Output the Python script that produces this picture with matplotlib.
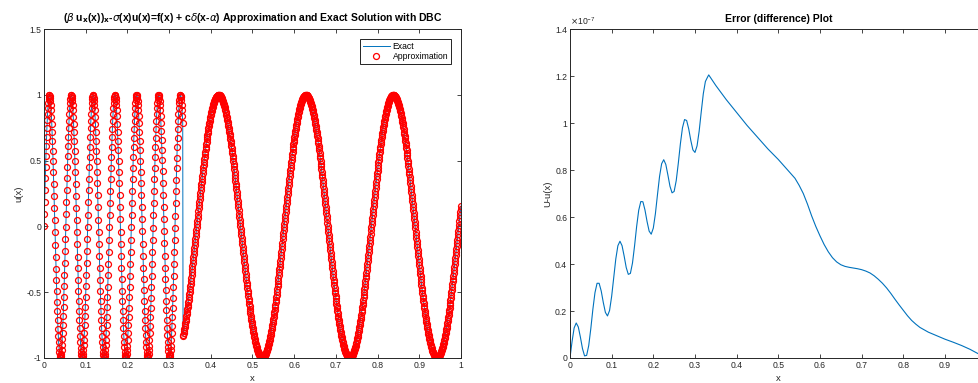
import numpy as np
import matplotlib
matplotlib.use('Agg')
import matplotlib.pyplot as plt

plt.rcParams['font.family'] = ['Liberation Sans', 'DejaVu Sans']
plt.rcParams['mathtext.fontset'] = 'dejavusans'

# exact solution: sin(k1 x) left of alpha, cos(k2 x) right of it
alpha = 1 / 3
k1 = 120
k2 = 30
n_intervals = 1280

# error curve U - u(x), values in units of 1e-7
err_x = [0, 0.005, 0.01, 0.015, 0.02, 0.025, 0.03, 0.035, 0.04, 0.045,
         0.05, 0.055, 0.06, 0.065, 0.07, 0.075, 0.08, 0.085, 0.09, 0.095,
         0.1, 0.105, 0.11, 0.115, 0.12, 0.125, 0.13, 0.135, 0.14, 0.145,
         0.15, 0.155, 0.16, 0.165, 0.17, 0.175, 0.18, 0.185, 0.19, 0.195,
         0.2, 0.205, 0.21, 0.215, 0.22, 0.225, 0.23, 0.235, 0.24, 0.245,
         0.25, 0.255, 0.26, 0.265, 0.27, 0.275, 0.28, 0.285, 0.29, 0.295,
         0.3, 0.305, 0.31, 0.315, 0.32, 0.325, 0.33, 0.333,
         0.35, 0.375, 0.4, 0.425, 0.45, 0.475, 0.5, 0.52, 0.54, 0.55,
         0.56, 0.57, 0.58, 0.59, 0.6, 0.61, 0.62, 0.63, 0.64, 0.65,
         0.66, 0.67, 0.68, 0.69, 0.7, 0.71, 0.72, 0.73, 0.74, 0.75,
         0.76, 0.77, 0.78, 0.79, 0.8, 0.81, 0.82, 0.83, 0.84, 0.86,
         0.88, 0.9, 0.92, 0.94, 0.96, 0.98, 1.0]
err_v = [0, 0.070, 0.128, 0.149, 0.132, 0.089, 0.040, 0.009, 0.011, 0.053,
         0.125, 0.208, 0.278, 0.318, 0.318, 0.285, 0.236, 0.194, 0.179, 0.202,
         0.262, 0.342, 0.422, 0.478, 0.497, 0.478, 0.434, 0.385, 0.356, 0.360,
         0.404, 0.477, 0.560, 0.629, 0.666, 0.665, 0.630, 0.581, 0.540, 0.527,
         0.553, 0.614, 0.695, 0.773, 0.827, 0.844, 0.824, 0.779, 0.731, 0.703,
         0.709, 0.755, 0.829, 0.912, 0.980, 1.015, 1.011, 0.975, 0.926, 0.886,
         0.875, 0.903, 0.965, 1.047, 1.125, 1.177, 1.195, 1.205,
         1.16, 1.10, 1.045, 0.99, 0.94, 0.89, 0.845, 0.805, 0.765, 0.735,
         0.70, 0.655, 0.605, 0.56, 0.52, 0.483, 0.452, 0.427, 0.409, 0.397,
         0.39, 0.386, 0.383, 0.38, 0.376, 0.37, 0.362, 0.35, 0.335, 0.318,
         0.298, 0.275, 0.25, 0.226, 0.203, 0.18, 0.16, 0.144, 0.13, 0.11,
         0.095, 0.08, 0.067, 0.053, 0.037, 0.018, 0.0]

x_ticks = np.arange(0, 1.01, 0.1)
x_labels = ['0', '0.1', '0.2', '0.3', '0.4', '0.5', '0.6', '0.7', '0.8', '0.9', '1']
u_ticks = [-1, -0.5, 0, 0.5, 1, 1.5]
u_labels = ['-1', '-0.5', '0', '0.5', '1', '1.5']
e_ticks = [0, 0.2, 0.4, 0.6, 0.8, 1.0, 1.2, 1.4]
e_labels = ['0', '0.2', '0.4', '0.6', '0.8', '1', '1.2', '1.4']

grey = '#262626'
blue = '#0072BD'

x = np.linspace(0, 1, n_intervals + 1)
u = np.where(x < alpha, np.sin(k1 * x), np.cos(k2 * x))

fig = plt.figure(figsize=(9.79, 3.83), dpi=100)
ax1 = fig.add_axes([0.0449, 0.0653, 0.4259, 0.8587])
ax2 = fig.add_axes([0.5822, 0.0653, 0.4256, 0.8587])


def matlab_axes(ax):
    for s in ax.spines.values():
        s.set_color(grey)
        s.set_linewidth(0.7)
    ax.tick_params(direction='in', top=True, right=True, length=3, width=0.6,
                   colors=grey, labelsize=6.2, pad=2)


ax1.plot(x, u, color=blue, lw=0.7, label='Exact')
ax1.plot(x, u, 'o', mfc='none', mec='red', ms=4.3, mew=0.9, label='Approximation')
ax1.set_xlim(0, 1)
ax1.set_ylim(-1, 1.5)
ax1.set_xticks(x_ticks)
ax1.set_xticklabels(x_labels)
ax1.set_yticks(u_ticks)
ax1.set_yticklabels(u_labels)
matlab_axes(ax1)
ax1.set_xlabel('x', fontsize=6.8, color=grey, labelpad=3)
ax1.set_ylabel('u(x)', fontsize=6.8, color=grey, labelpad=2)
ax1.set_title(r'($\beta$ u$_{\mathbf{x}}$(x))$_{\mathbf{x}}$-$\sigma$(x)u(x)=f(x) + c$\delta$(x-$\alpha$)'
              ' Approximation and Exact Solution with DBC',
              fontsize=7.5, fontweight='bold', pad=6)
leg = ax1.legend(loc='upper right', bbox_to_anchor=(0.976, 0.970), borderaxespad=0,
                 fontsize=6.2, fancybox=False, framealpha=1, edgecolor='black',
                 handlelength=3.2, handletextpad=0.3, borderpad=0.3, labelspacing=0.2)
leg.get_frame().set_linewidth(0.6)

ax2.plot(err_x, err_v, color=blue, lw=0.8)
ax2.set_xlim(0, 1)
ax2.set_ylim(0, 1.4)
ax2.set_xticks(x_ticks)
# the panel runs past the right edge of the picture, so the last label is not shown
ax2.set_xticklabels(x_labels[:-1] + [''])
ax2.set_yticks(e_ticks)
ax2.set_yticklabels(e_labels)
matlab_axes(ax2)
ax2.set_xlabel('x', fontsize=6.8, color=grey, labelpad=3)
ax2.set_ylabel('U-u(x)', fontsize=6.8, color=grey, labelpad=2)
ax2.set_title('Error (difference) Plot', fontsize=7.5, fontweight='bold', pad=5)
ax2.text(0.0, 1.006, r'$\times$10$^{\mathregular{-7}}$', transform=ax2.transAxes,
         fontsize=6.2, color=grey, ha='left', va='bottom')

fig.savefig('out.png', dpi=100)
